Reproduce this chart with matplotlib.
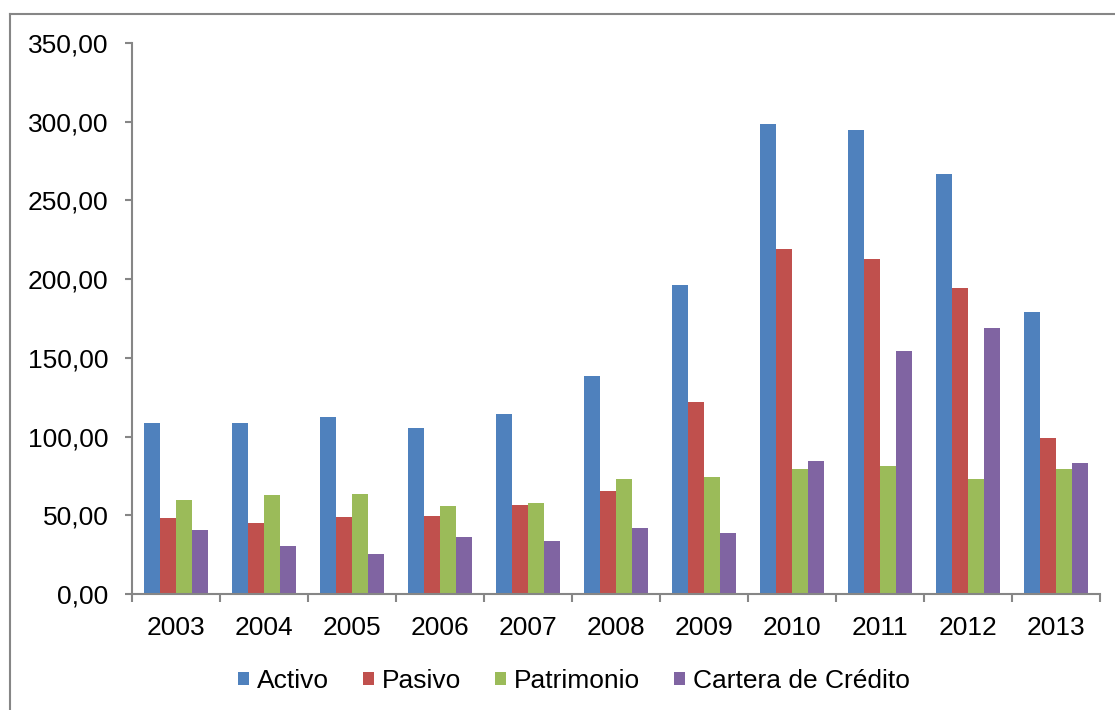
import matplotlib
matplotlib.use("Agg")
import matplotlib.pyplot as plt
import numpy as np
from matplotlib.lines import Line2D
from matplotlib.ticker import FuncFormatter, FixedLocator

plt.rcParams['font.family'] = ['Liberation Sans', 'DejaVu Sans']

years = ["2003", "2004", "2005", "2006", "2007", "2008", "2009", "2010", "2011", "2012", "2013"]
activo = [108.7, 108.7, 112.2, 105.5, 114.6, 138.4, 196.4, 298.6, 294.6, 267.1, 178.9]
pasivo = [48.5, 45.4, 48.7, 49.6, 56.8, 65.4, 122.2, 219.2, 212.5, 194.3, 98.9]
patrimonio = [59.9, 62.7, 63.3, 55.7, 57.6, 72.8, 74.5, 79.1, 81.6, 72.8, 79.7]
cartera = [40.9, 30.6, 25.3, 35.9, 33.5, 42.2, 39.0, 84.2, 154.2, 168.8, 82.9]

series_names = ["Activo", "Pasivo", "Patrimonio", "Cartera de Crédito"]
colors = ["#4F81BD", "#C0504D", "#9BBB59", "#8064A2"]

W, H = 1115, 710
fig = plt.figure(figsize=(W / 100, H / 100), dpi=100)
ax = fig.add_axes([132 / W, 1 - 594 / H, (1100 - 132) / W, (594 - 43) / H])

x = np.arange(len(years))
bar_w = 0.182
all_series = [activo, pasivo, patrimonio, cartera]
for i, (vals, name, c) in enumerate(zip(all_series, series_names, colors)):
    ax.bar(x + (i - 1.5) * bar_w, vals, width=bar_w, color=c, label=name,
           edgecolor='none', zorder=2)

axis_gray = "#868686"
ax.set_xlim(-0.5, len(years) - 0.5)
ax.set_ylim(0, 350)
ax.set_yticks(np.arange(0, 351, 50))
ax.yaxis.set_major_formatter(FuncFormatter(lambda v, p: f"{v:.2f}".replace(".", ",")))

ax.set_xticks(x)
ax.set_xticklabels(years)
ax.xaxis.set_minor_locator(FixedLocator(np.arange(-0.5, len(years), 1.0)))

for side in ["top", "right"]:
    ax.spines[side].set_visible(False)
for side in ["left", "bottom"]:
    ax.spines[side].set_color(axis_gray)
    ax.spines[side].set_linewidth(1.5)

ax.tick_params(axis='y', which='major', length=5, width=1.5, color=axis_gray,
               labelsize=19, pad=12, labelcolor='black')
ax.tick_params(axis='x', which='major', length=0, labelsize=19, pad=16,
               labelcolor='black')
ax.tick_params(axis='x', which='minor', length=6, width=1.5, color=axis_gray)

leg = fig.legend(loc='center', bbox_to_anchor=(574 / W, 1 - 681 / H), ncol=4,
                 frameon=False, fontsize=19, handlelength=0.4, handleheight=0.4,
                 handletextpad=0.3, columnspacing=1.3)

# chart area edge: top and left lines
fig.add_artist(Line2D([9.5 / W, 1.0], [1 - 14 / H, 1 - 14 / H],
                      transform=fig.transFigure, color=axis_gray, linewidth=1.5))
fig.add_artist(Line2D([9.5 / W, 9.5 / W], [0.0, 1 - 14 / H],
                      transform=fig.transFigure, color=axis_gray, linewidth=1.5))

fig.savefig("out.png", dpi=100)
